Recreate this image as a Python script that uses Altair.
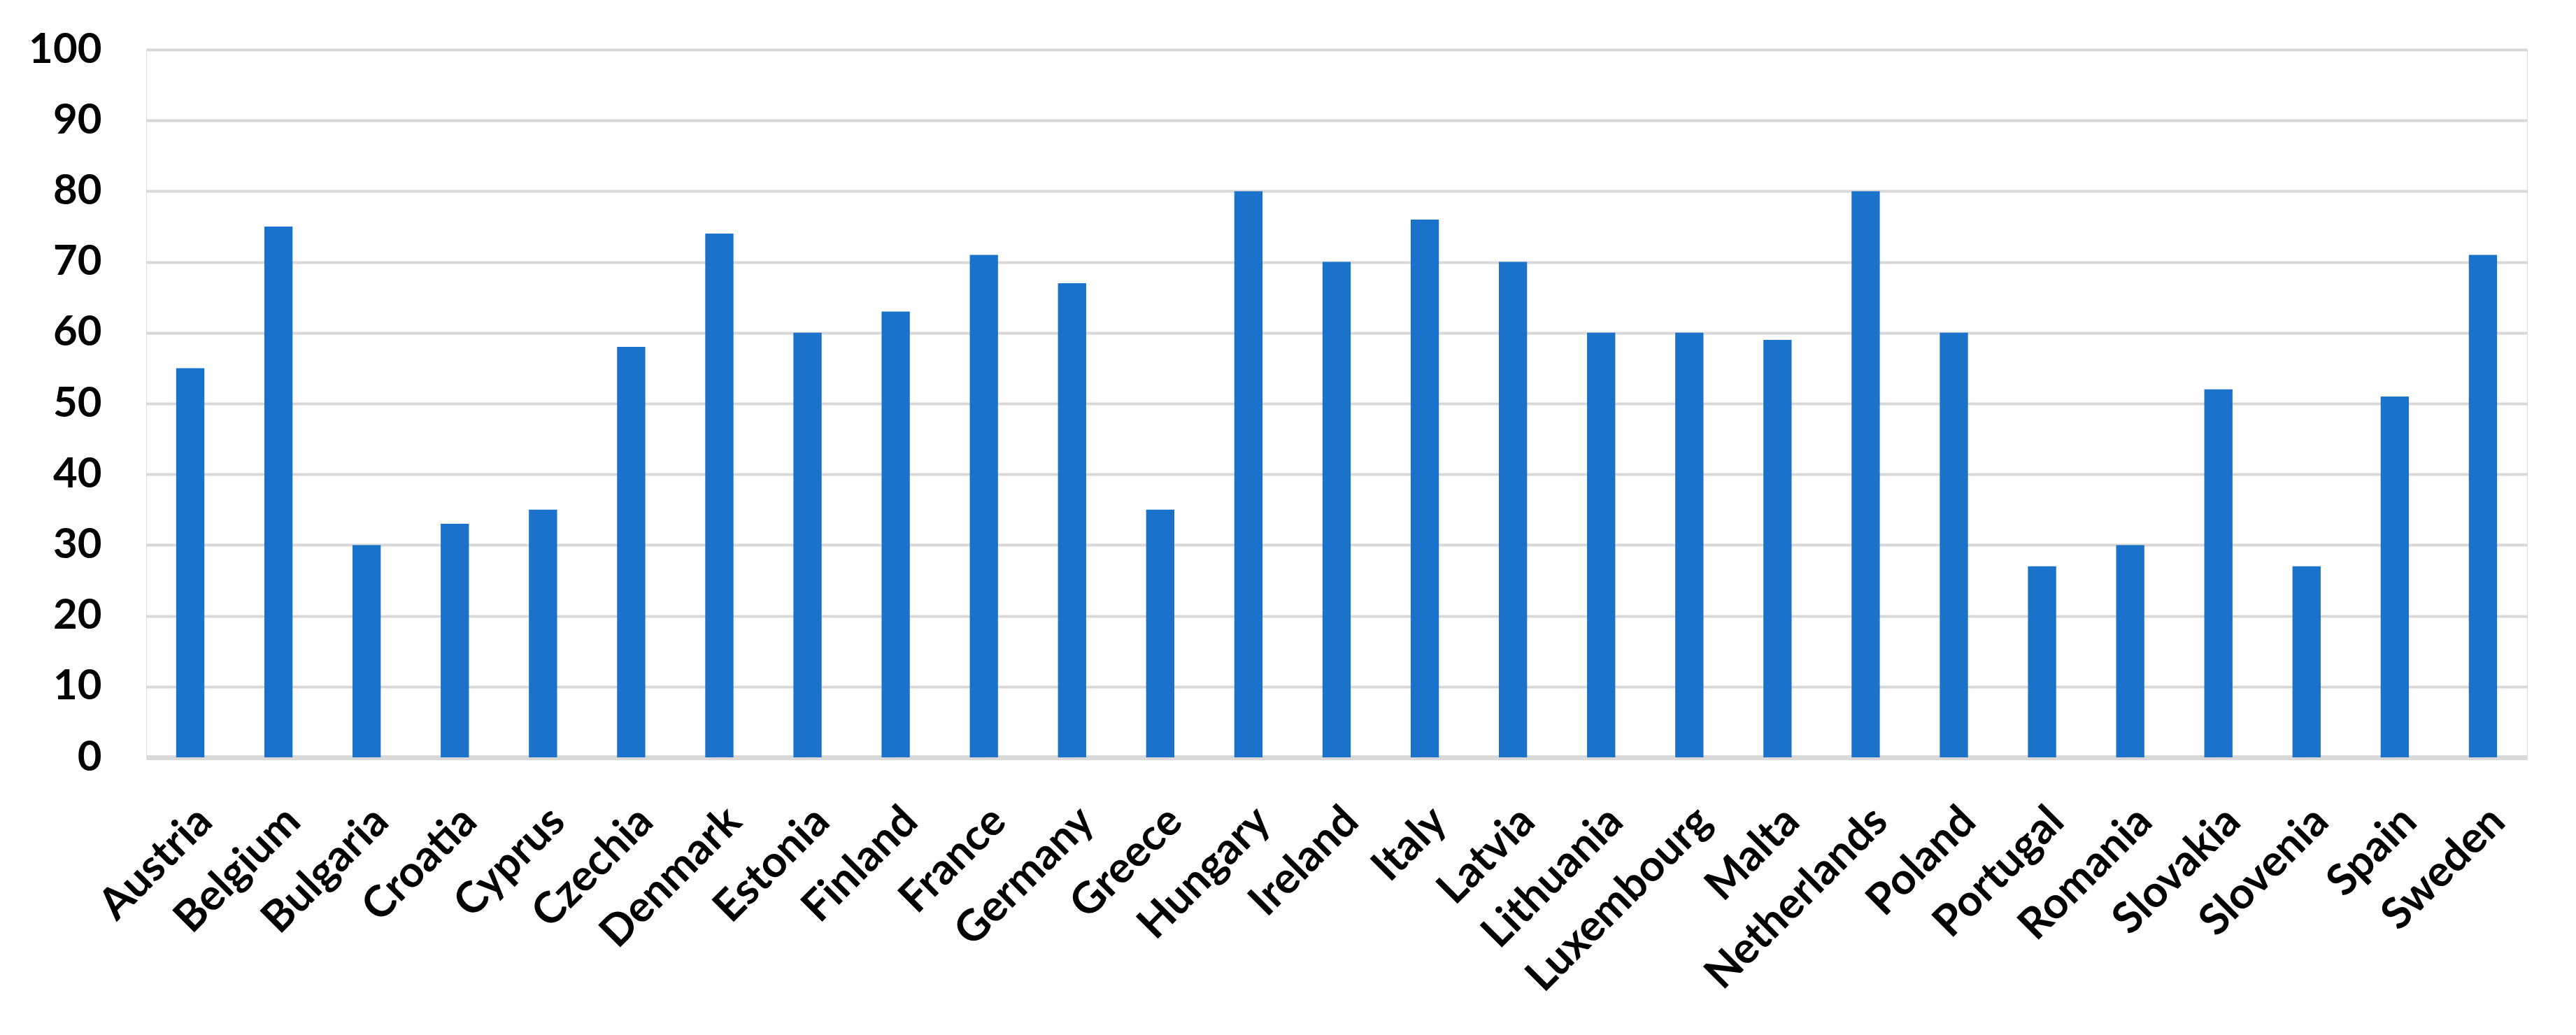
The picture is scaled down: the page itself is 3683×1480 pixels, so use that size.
import altair as alt
import pandas as pd

countries = ["Austria", "Belgium", "Bulgaria", "Croatia", "Cyprus", "Czechia", "Denmark",
             "Estonia", "Finland", "France", "Germany", "Greece", "Hungary", "Ireland",
             "Italy", "Latvia", "Lithuania", "Luxembourg", "Malta", "Netherlands", "Poland",
             "Portugal", "Romania", "Slovakia", "Slovenia", "Spain", "Sweden"]
values = [55, 75, 30, 33, 35, 58, 74, 60, 63, 71, 67, 35, 80, 70, 76, 70, 60, 60, 59, 80,
          60, 27, 30, 52, 27, 51, 71]
y_ticks = list(range(0, 101, 10))

df = pd.DataFrame({"country": countries, "value": values})

FONT = "Lato"

chart = alt.Chart(df).mark_bar(color="#1a72ca").encode(
    x=alt.X("country:N", sort=countries, title=None,
            scale=alt.Scale(paddingInner=0.68, paddingOuter=0.34),
            axis=alt.Axis(labelAngle=-45, labelFont=FONT, labelFontSize=62,
                          labelFontWeight="bold", labelColor="black",
                          labelPadding=60, ticks=False, domainColor="#d9d9d9",
                          domainWidth=7, grid=False, labelOverlap=False,
                          labelLimit=1000)),
    y=alt.Y("value:Q", title=None,
            scale=alt.Scale(domain=[0, 100], nice=False),
            axis=alt.Axis(values=y_ticks, labelFont=FONT, labelFontSize=60,
                          labelFontWeight="bold", labelColor="black",
                          labelPadding=64, ticks=False, domain=False,
                          gridColor="#d9d9d9", gridWidth=4)),
).properties(
    width=3404, height=1012,
    autosize=alt.AutoSizeParams(type="none"),
    padding={"left": 201, "top": 63, "right": 60, "bottom": 380},
).configure_view(stroke=None).configure(background="white")

chart.save("out.html", embed_options={"renderer": "svg", "actions": False})
